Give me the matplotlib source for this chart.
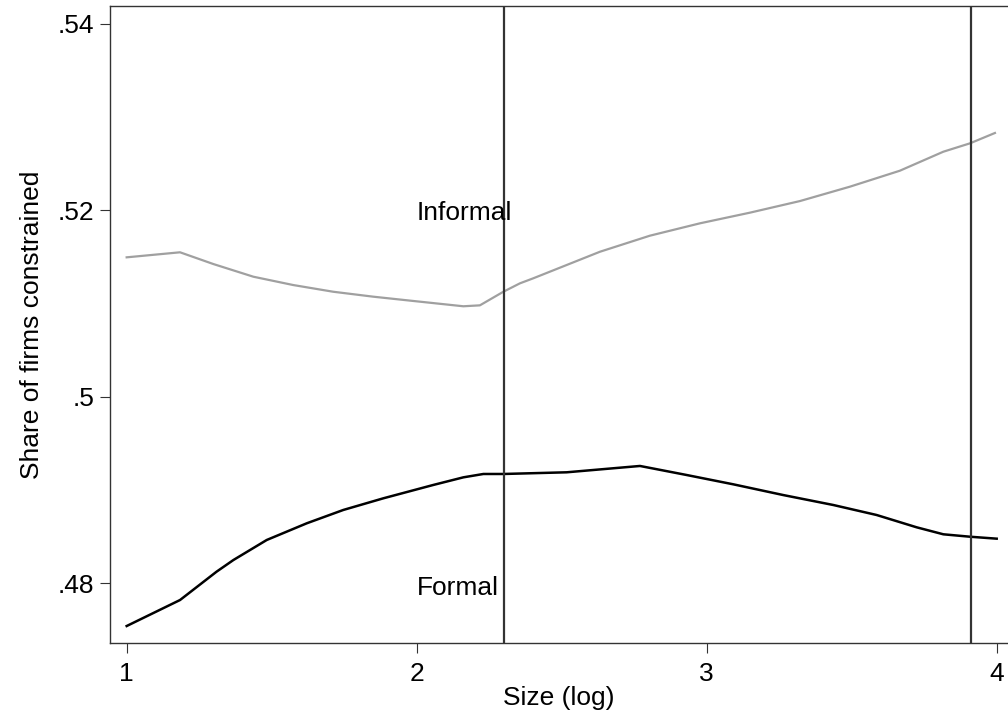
import matplotlib
matplotlib.use("Agg")
import matplotlib.pyplot as plt
import numpy as np

plt.rcParams['font.family'] = ['Liberation Sans', 'DejaVu Sans']

# Data
informal_x = [1.000, 1.184, 1.299, 1.437, 1.574, 1.712, 1.850, 1.988, 2.161, 2.218,
              2.299, 2.356, 2.402, 2.632, 2.804, 2.977, 3.149, 3.322, 3.494, 3.666,
              3.816, 3.908, 3.994]
informal_y = [0.51497, 0.51551, 0.51425, 0.51289, 0.51200, 0.51128, 0.51075, 0.51029,
              0.50972, 0.50982, 0.51128, 0.51218, 0.51272, 0.51557, 0.51729, 0.51862,
              0.51976, 0.52101, 0.52255, 0.52426, 0.52630, 0.52720, 0.52831]

formal_x = [1.000, 1.184, 1.310, 1.368, 1.483, 1.621, 1.747, 1.885, 2.057, 2.161,
            2.230, 2.299, 2.517, 2.770, 2.931, 3.092, 3.264, 3.437, 3.586, 3.724,
            3.816, 3.908, 4.000]
formal_y = [0.47542, 0.47821, 0.48125, 0.48250, 0.48465, 0.48644, 0.48787, 0.48912,
            0.49055, 0.49137, 0.49173, 0.49173, 0.49191, 0.49259, 0.49162, 0.49062,
            0.48947, 0.48840, 0.48733, 0.48601, 0.48526, 0.48500, 0.48479]

vlines_x = [np.log(10), np.log(50)]

x_ticks = [1, 2, 3, 4]
x_ticklabels = ["1", "2", "3", "4"]
y_ticks = [0.48, 0.50, 0.52, 0.54]
y_ticklabels = [".48", ".5", ".52", ".54"]

FS = 19

fig = plt.figure(figsize=(10.08, 7.19), dpi=100)
ax = fig.add_axes([0.1088, 0.1061, 0.8912, 0.8849])

ax.plot(informal_x, informal_y, color="#a0a0a0", lw=1.6, solid_joinstyle="round")
ax.plot(formal_x, formal_y, color="black", lw=1.8, solid_joinstyle="round")
for xv in vlines_x:
    ax.axvline(xv, color="#333333", lw=1.6)

ax.text(2.0, 0.5190, "Informal", fontsize=FS, ha="left", va="baseline")
ax.text(2.0, 0.47875, "Formal", fontsize=FS, ha="left", va="baseline")

ax.set_xlim(0.9414, 4.039)
ax.set_ylim(0.47363, 0.54188)
ax.set_xticks(x_ticks)
ax.set_xticklabels(x_ticklabels)
ax.set_yticks(y_ticks)
ax.set_yticklabels(y_ticklabels)

ax.tick_params(axis="both", direction="out", length=7, width=0.8, colors="#333333",
               labelcolor="black", labelsize=FS)
ax.tick_params(axis="x", pad=7)
ax.tick_params(axis="y", pad=4)

for s in ["left", "bottom", "top"]:
    ax.spines[s].set_color("#333333")
    ax.spines[s].set_linewidth(1.0)
ax.spines["right"].set_visible(False)

ax.set_xlabel("Size (log)", fontsize=FS, labelpad=0)
ax.set_ylabel("Share of firms constrained", fontsize=FS, labelpad=10)

fig.savefig("out.png", dpi=100)
